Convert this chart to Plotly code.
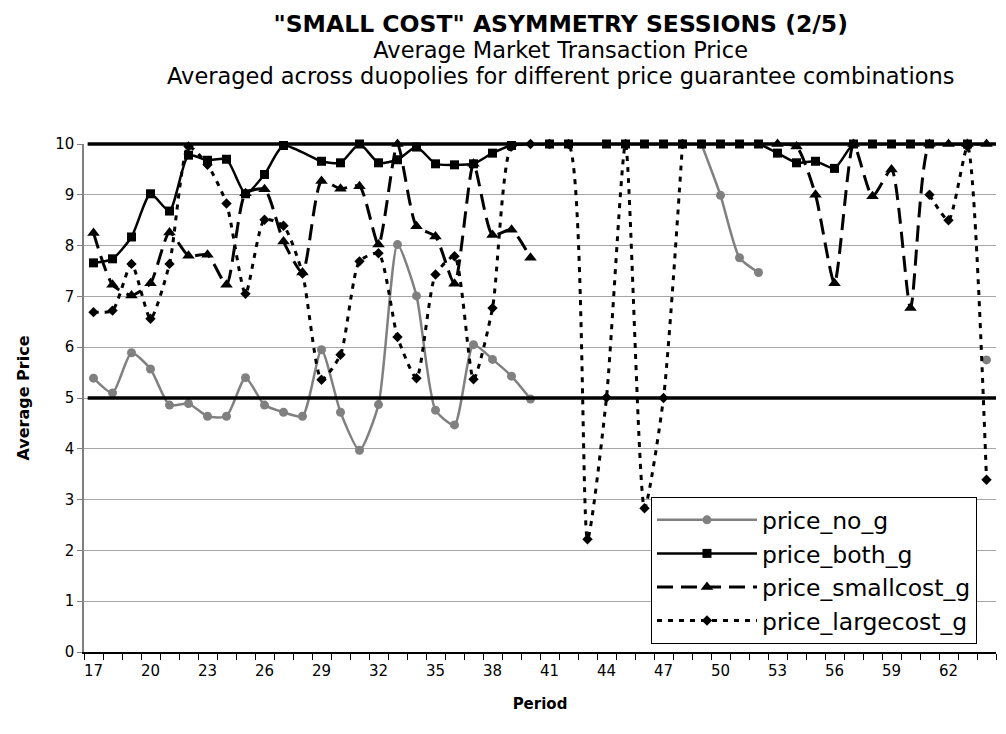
import plotly.graph_objects as go

periods = list(range(17, 65))
tick_periods = list(range(17, 63, 3))
ref_levels = [5, 10]
y_min, y_max = 0, 10

title_lines = [
    '"SMALL COST" ASYMMETRY SESSIONS (2/5)',
    "Average Market Transaction Price",
    "Averaged across duopolies for different price guarantee combinations",
]

price_no_g = [5.39, 5.10, 5.89, 5.57, 4.86, 4.89, 4.64, 4.64, 5.40, 4.86, 4.72, 4.64,
              5.95, 4.72, 3.97, 4.87, 8.02, 7.01, 4.76, 4.47, 6.05, 5.76, 5.43, 4.98,
              None, None, None, None, None, None, None, None,
              10.0, 8.99, 7.76, 7.47,
              None, None, None, None, None, None, None, None, None, None, None,
              5.75]

price_both_g = [7.66, 7.74, 8.17, 9.02, 8.68, 9.78, 9.68, 9.70, 9.02, 9.40, 9.97, None,
                9.66, 9.63, 10.0, 9.63, 9.69, 9.94, 9.61, 9.59, 9.61, 9.82, 9.97, None,
                10.0, 10.0, None, 10.0, 10.0, 10.0, 10.0, 10.0,
                10.0, 10.0, 10.0, 10.0,
                9.82, 9.63, 9.66, 9.52, 10.0, 10.0, 10.0, 10.0, 10.0, None, 10.0,
                None]

price_smallcost_g = [8.25, 7.23, 7.02, 7.26, 8.26, 7.80, 7.82, 7.23, 9.03, 9.11, 8.08, 7.47,
                     9.27, 9.12, 9.17, 8.02, 10.0, 8.38, 8.18, 7.25, 9.61, 8.21, 8.31, 7.76,
                     None, None, None, None, None, None, None, None,
                     None, None, None, None,
                     10.0, 9.95, 9.0, 7.26, 10.0, 8.97, 9.5, 6.77, 10.0, 10.0, 10.0,
                     10.0]

price_largecost_g = [6.69, 6.72, 7.64, 6.56, 7.64, 9.95, 9.59, 8.83, 7.05, 8.51, 8.39, 7.45,
                     5.36, 5.85, 7.69, 7.85, 6.20, 5.39, 7.43, 7.79, 5.37, 6.77, 9.95, 10.0,
                     10.0, 10.0, 2.22, 5.01, 10.0, 2.83, 5.0, 10.0,
                     None, None, None, None,
                     None, None, None, None, None, None, None, None, 9.0, 8.5, 9.95,
                     3.39]

FONT = "DejaVu Sans, Verdana, sans-serif"

fig = go.Figure()

for lvl in ref_levels:
    yp = (lvl - y_min) / (y_max - y_min)
    fig.add_shape(type="line", xref="paper", yref="paper", x0=0.004, x1=1.0, y0=yp, y1=yp,
                  line=dict(color="black", width=3.5), layer="above")

fig.add_trace(go.Scatter(x=periods, y=price_no_g, name="price_no_g", mode="lines+markers",
                         line=dict(color="#808080", width=2.5, shape="spline", smoothing=0.6),
                         marker=dict(symbol="circle", size=9, color="#808080"),
                         connectgaps=False, cliponaxis=False))
fig.add_trace(go.Scatter(x=periods, y=price_both_g, name="price_both_g", mode="lines+markers",
                         line=dict(color="black", width=2.5, shape="spline", smoothing=0.6),
                         marker=dict(symbol="square", size=9, color="black"),
                         connectgaps=True, cliponaxis=False))
fig.add_trace(go.Scatter(x=periods, y=price_smallcost_g, name="price_smallcost_g", mode="lines+markers",
                         line=dict(color="black", width=3, dash="16px,8px", shape="spline", smoothing=0.6),
                         marker=dict(symbol="triangle-up", size=11, color="black"),
                         connectgaps=False, cliponaxis=False))
fig.add_trace(go.Scatter(x=periods, y=price_largecost_g, name="price_largecost_g", mode="lines+markers",
                         line=dict(color="black", width=3, dash="5px,6px", shape="spline", smoothing=0.6),
                         marker=dict(symbol="diamond", size=8, color="black"),
                         connectgaps=False, cliponaxis=False))

title_html = ('<b><span style="font-size:23.5px">%s</span></b><br>'
              '<span style="font-size:22.5px">%s</span><br>'
              '<span style="font-size:22.5px">%s</span>') % tuple(title_lines)
fig.add_annotation(text=title_html, xref="paper", yref="paper", x=0.522, y=1.186,
                   xanchor="center", yanchor="middle", showarrow=False, align="center",
                   font=dict(family=FONT, size=20, color="black"))

fig.update_layout(
    width=998, height=726,
    margin=dict(l=76, r=10, t=136, b=82),
    paper_bgcolor="white", plot_bgcolor="white",
    font=dict(family=FONT, color="black", size=15),
    showlegend=True,
    legend=dict(x=0.6217, y=0.305, xanchor="left", yanchor="top",
                bordercolor="black", borderwidth=1, bgcolor="white",
                font=dict(family=FONT, size=23.5, color="black"),
                itemwidth=100, tracegroupgap=0),
    xaxis=dict(
        range=[16.5, 64.5], tickmode="array", tickvals=tick_periods,
        ticktext=[str(p) for p in tick_periods], ticks="", showgrid=False,
        showline=True, linecolor="black", linewidth=1.5, zeroline=False,
        tickfont=dict(size=15), ticklabelstandoff=4,
        minor=dict(tick0=16.5, dtick=1, ticks="outside", ticklen=6, tickcolor="black", tickwidth=1, showgrid=False),
        title=dict(text="<b>Period</b>", font=dict(size=15), standoff=20),
    ),
    yaxis=dict(
        range=[y_min, y_max], dtick=1, ticks="outside", ticklen=5, tickcolor="#808080",
        showgrid=True, gridcolor="#a6a6a6", gridwidth=1,
        showline=True, linecolor="#808080", linewidth=1.5, zeroline=False,
        tickfont=dict(size=15),
        title=dict(text="<b>Average Price</b>", font=dict(size=16), standoff=22),
    ),
)

fig.write_html("out.html")
